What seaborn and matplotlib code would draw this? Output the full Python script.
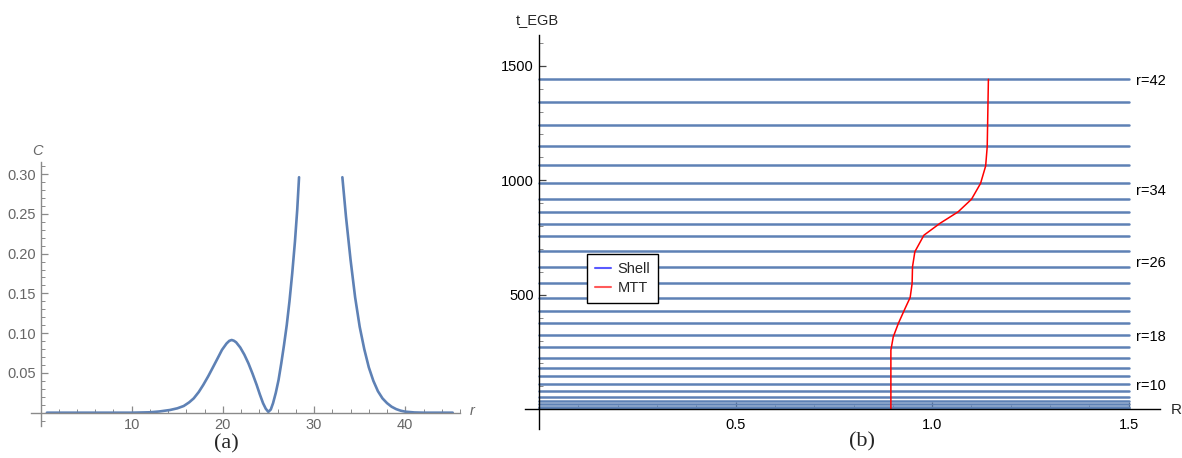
import numpy as np
import pandas as pd
import matplotlib
matplotlib.use("Agg")
import matplotlib.pyplot as plt
from matplotlib.lines import Line2D
from matplotlib.ticker import MultipleLocator
import seaborn as sns

sns.set_style("white")
plt.rcParams['font.family'] = ['Liberation Sans', 'DejaVu Sans']

# ---------------- data: panel (a) ----------------
c_r_left = [0.7, 5, 10, 12, 13, 14.2, 15.0, 15.7, 16.3, 16.8, 17.35, 17.85, 18.4, 18.95, 19.45,
            19.9, 20.4, 20.7, 20.96, 21.2, 21.45, 21.9, 22.35, 22.8, 23.25, 23.7, 24.05, 24.4,
            24.7, 24.98, 25.25, 25.5, 25.8, 26.1, 26.4, 26.7, 27.0, 27.3, 27.6, 27.9, 28.15,
            28.35]
c_val_left = [0.0, 0.0, 0.0, 0.0005, 0.0015, 0.0034, 0.0055, 0.0084, 0.013, 0.018, 0.026, 0.035,
              0.046, 0.058, 0.069, 0.079, 0.087, 0.0903, 0.0914, 0.0905, 0.0885, 0.082, 0.073,
              0.062, 0.049, 0.035, 0.023, 0.012, 0.005, 0.001, 0.004, 0.012, 0.025, 0.041,
              0.062, 0.085, 0.110, 0.140, 0.175, 0.215, 0.255, 0.296]
c_r_right = [33.1, 33.5, 34.0, 34.5, 35.0, 35.5, 36.0, 36.5, 37.0, 37.5, 38.0, 38.5, 39.0,
             39.5, 40.0, 41.0, 42.0, 45.2]
c_val_right = [0.296, 0.246, 0.192, 0.145, 0.108, 0.080, 0.057, 0.040, 0.027, 0.018, 0.012,
               0.0075, 0.0045, 0.0025, 0.0013, 0.0003, 0.0, 0.0]

# ---------------- data: panel (b) ----------------
shell_t = [1440.6, 1340.2, 1242.4, 1150.7, 1065.2, 987.9, 918.1, 861.3, 810.2, 755.2, 692.4,
           622.5, 550.1, 484.6, 429.1, 374.6, 322.2, 273.3, 225.7, 181.6, 144.5, 110.4, 81.2,
           55.0, 36.2, 21.8, 11.4, 4.4]
shell_R = [0.0, 1.5]

mtt_R = [0.895, 0.895, 0.895, 0.901, 0.914, 0.931, 0.944, 0.949, 0.950, 0.956, 0.979, 1.020,
         1.066, 1.100, 1.123, 1.136, 1.140, 1.143]
mtt_t = [0, 150, 258, 316, 375, 440, 488, 549, 622, 688, 760, 812, 862, 917, 986, 1062, 1147,
         1440.6]

label_texts = ["r=42", "r=34", "r=26", "r=18", "r=10"]
label_t = [1434, 954, 640, 317, 102]

# ---------------- figure ----------------
W, H = 1182, 458
fig = plt.figure(figsize=(W / 100, H / 100), dpi=100)

blue = "#5E81B5"
grey = "#8a8a8a"
tgrey = "#666666"

# ---- panel (a)
axa = fig.add_axes([0.02657, 0.0694, 0.3626, 0.5775])
dfa = pd.DataFrame({
    "r": c_r_left + c_r_right,
    "C": c_val_left + c_val_right,
    "seg": [0] * len(c_r_left) + [1] * len(c_r_right),
})
sns.lineplot(data=dfa, x="r", y="C", units="seg", estimator=None, sort=False,
             color=blue, lw=1.9, ax=axa, legend=False)
axa.set_xlim(-1.0, 46.0)
axa.set_ylim(-0.017, 0.3155)
for s in ["top", "right"]:
    axa.spines[s].set_visible(False)
axa.spines["left"].set_position(("data", 0))
axa.spines["bottom"].set_position(("data", 0))
for s in ["left", "bottom"]:
    axa.spines[s].set_color(grey)
    axa.spines[s].set_linewidth(1.0)
axa.set_xticks([10, 20, 30, 40])
axa.set_yticks([0.05, 0.10, 0.15, 0.20, 0.25, 0.30])
axa.set_yticklabels(["0.05", "0.10", "0.15", "0.20", "0.25", "0.30"])
axa.xaxis.set_minor_locator(MultipleLocator(2))
axa.yaxis.set_minor_locator(MultipleLocator(0.01))
axa.tick_params(axis="both", which="both", bottom=True, left=True, top=False, right=False)
axa.tick_params(axis="both", which="major", direction="in", length=5, width=0.9,
                color=grey, labelcolor=tgrey, labelsize=10.5)
axa.tick_params(axis="both", which="minor", direction="in", length=3, width=0.7, color=grey)
axa.tick_params(axis="x", pad=4)
axa.set_xlabel("")
axa.set_ylabel("")
fig.text(38 / W, 1 - 151 / H, "C", style="italic", color=tgrey, fontsize=10.5,
         ha="center", va="center")
fig.text(472 / W, 1 - 411 / H, "r", style="italic", color=tgrey, fontsize=10.5,
         ha="center", va="center")

# ---- panel (b)
axb = fig.add_axes([0.4443, 0.0638, 0.5373, 0.8598])
rows = []
for i, t in enumerate(shell_t):
    for R in shell_R:
        rows.append({"R": R, "t": t, "shell": i})
dfs = pd.DataFrame(rows)
sns.lineplot(data=dfs, x="R", y="t", units="shell", estimator=None, sort=False,
             color=blue, lw=1.8, ax=axb, legend=False)
dfm = pd.DataFrame({"R": mtt_R, "t": mtt_t})
sns.lineplot(data=dfm, x="R", y="t", sort=False, estimator=None, color="red", lw=1.1,
             ax=axb, legend=False)
axb.set_xlim(-0.035, 1.58)
axb.set_ylim(-85, 1634)
for s in ["top", "right"]:
    axb.spines[s].set_visible(False)
axb.spines["left"].set_position(("data", 0))
axb.spines["bottom"].set_position(("data", 0))
for s in ["left", "bottom"]:
    axb.spines[s].set_color("black")
    axb.spines[s].set_linewidth(1.0)
axb.set_xticks([0.5, 1.0, 1.5])
axb.set_xticklabels(["0.5", "1.0", "1.5"])
axb.set_yticks([500, 1000, 1500])
axb.xaxis.set_minor_locator(MultipleLocator(0.1))
axb.yaxis.set_minor_locator(MultipleLocator(100))
axb.tick_params(axis="both", which="both", bottom=True, left=True, top=False, right=False)
axb.tick_params(axis="both", which="major", direction="in", length=5, width=0.9,
                color="#444444", labelcolor="black", labelsize=10.5)
axb.tick_params(axis="both", which="minor", direction="in", length=3, width=0.7,
                color="#888888")
axb.tick_params(axis="x", pad=6)
axb.set_xlabel("")
axb.set_ylabel("")
for txt, t in zip(label_texts, label_t):
    axb.text(1.518, t, txt, fontsize=10.5, ha="left", va="center", color="black")

fig.text(537 / W, 1 - 20 / H, "t_EGB", fontsize=10.5, ha="center", va="center")
fig.text(1176 / W, 1 - 410 / H, "R", fontsize=11, ha="center", va="center")

handles = [Line2D([0], [0], color="#5a5aff", lw=1.5),
           Line2D([0], [0], color="#ff5a5a", lw=1.5)]
leg = fig.legend(handles, ["Shell", "MTT"], loc="upper left",
                 bbox_to_anchor=(587 / W, 1 - 254 / H), fontsize=10.5, frameon=True,
                 fancybox=False, edgecolor="black", framealpha=1.0, handlelength=1.1,
                 handletextpad=0.45, borderpad=0.55, labelspacing=0.32, borderaxespad=0)
leg.get_frame().set_linewidth(1.0)

fig.text(226 / W, 1 - 444 / H, "(a)", family=["Liberation Serif", "DejaVu Serif"],
         fontsize=16, ha="center", va="center")
fig.text(862 / W, 1 - 442 / H, "(b)", family=["Liberation Serif", "DejaVu Serif"],
         fontsize=16, ha="center", va="center")

fig.savefig("out.png", dpi=100)
